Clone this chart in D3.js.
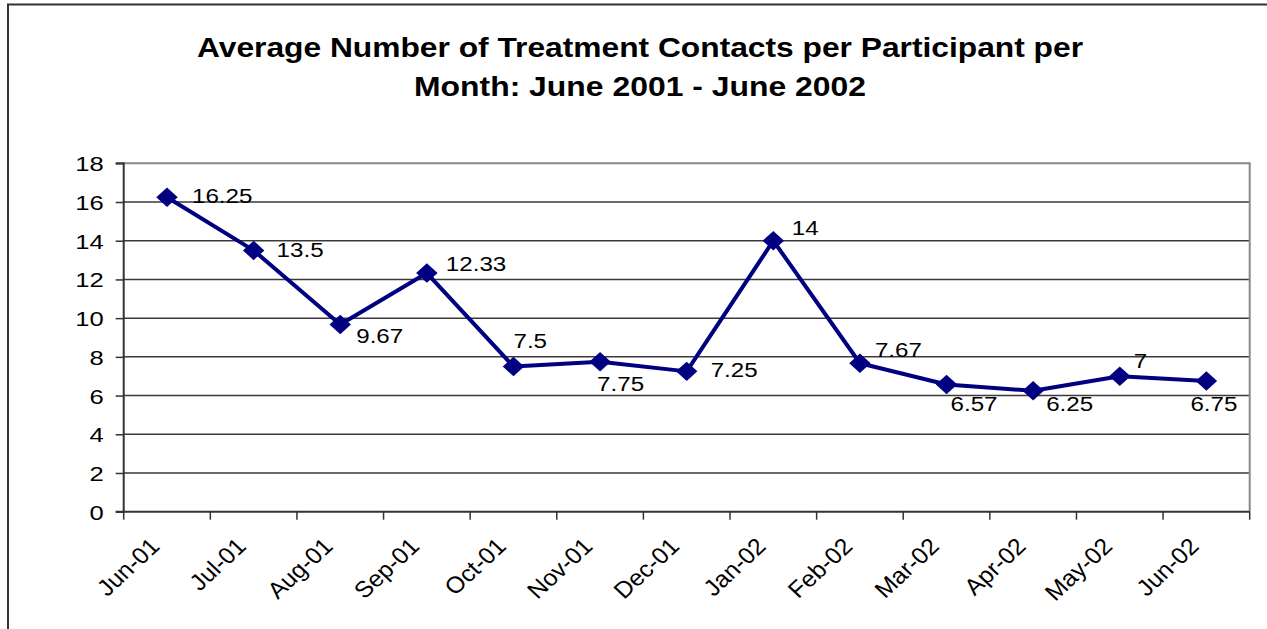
<!DOCTYPE html>
<html>
<head>
<meta charset="utf-8">
<script src="https://cdn.jsdelivr.net/npm/d3@7"></script>
<style>
  html, body { margin: 0; padding: 0; background: #fff; }
  svg { display: block; font-family: "Liberation Sans", Arial, sans-serif; }
</style>
</head>
<body>
<svg id="chart" width="1267" height="629"></svg>
<script>
// Monthly averages of treatment contacts per participant
const months = ["Jun-01", "Jul-01", "Aug-01", "Sep-01", "Oct-01", "Nov-01", "Dec-01",
                "Jan-02", "Feb-02", "Mar-02", "Apr-02", "May-02", "Jun-02"];
const contacts = [16.25, 13.5, 9.67, 12.33, 7.5, 7.75, 7.25, 14, 7.67, 6.57, 6.25, 7, 6.75];
const yTicks = [0, 2, 4, 6, 8, 10, 12, 14, 16, 18];
const titleLines = ["Average Number of Treatment Contacts per Participant per",
                    "Month: June 2001 - June 2002"];
// Hand-placed value label offsets (dx, dy) from each marker
const labelOffsets = [[25, -2], [23, -1], [16, 10.5], [19, -10], [0, -26], [-3, 22], [24, -2],
                      [18.5, -13], [15, -14], [4, 19], [13, 12.6], [14, -16], [-16, 22]];

const svg = d3.select("#chart");
const plot = { left: 123.7, right: 1249.7, top: 163.3, bottom: 511.7 };
const FONT = "Liberation Sans, Arial, sans-serif";

// outer chart frame (runs off the right and bottom edges)
svg.append("path")
  .attr("d", `M8,640 L8,4.5 L1280,4.5`)
  .attr("fill", "none").attr("stroke", "#333").attr("stroke-width", 2);

// title
svg.append("g").selectAll("text").data(titleLines).join("text")
  .attr("x", 640).attr("y", (d, i) => 57 + i * 39)
  .attr("text-anchor", "middle")
  .attr("font-weight", "bold").attr("font-size", 28)
  .attr("textLength", (d, i) => i === 0 ? 886 : 452)
  .attr("lengthAdjust", "spacingAndGlyphs")
  .attr("fill", "#000")
  .text(d => d);

const x = d3.scaleBand().domain(months).range([plot.left, plot.right]).padding(0);
const y = d3.scaleLinear().domain([0, 18]).range([plot.bottom, plot.top]);

// horizontal gridlines
svg.append("g").selectAll("line").data(yTicks.filter(t => t > 0 && t < 18)).join("line")
  .attr("x1", plot.left).attr("x2", plot.right)
  .attr("y1", d => y(d)).attr("y2", d => y(d))
  .attr("stroke", "#3a3a3a").attr("stroke-width", 1.5);

// plot area border, top and right
svg.append("path")
  .attr("d", `M${plot.left},${y(18)} L${plot.right},${y(18)} L${plot.right},${plot.bottom}`)
  .attr("fill", "none").attr("stroke", "#888").attr("stroke-width", 2);

// y axis
const yAxis = d3.axisLeft(y).tickValues(yTicks).tickSize(8).tickPadding(12).tickFormat(d3.format("d"));
const gy = svg.append("g").attr("transform", `translate(${plot.left},0)`).call(yAxis);
gy.select(".domain").attr("stroke", "#333").attr("stroke-width", 2).attr("d", `M-8,${plot.top}H0V${plot.bottom}H-8`);
gy.selectAll(".tick line").attr("stroke", "#333").attr("stroke-width", 1.5);
gy.selectAll(".tick text")
  .attr("x", 0).attr("dy", "0.36em")
  .attr("transform", "translate(-20,0) scale(1.22,1)")
  .attr("font-size", 21).attr("fill", "#000").attr("font-family", FONT);

// x axis: baseline, ticks at category boundaries, rotated labels at category centers
const gx = svg.append("g");
gx.append("line")
  .attr("x1", plot.left).attr("x2", plot.right)
  .attr("y1", plot.bottom).attr("y2", plot.bottom)
  .attr("stroke", "#333").attr("stroke-width", 2);
const boundaries = months.map(m => x(m)).concat([x.range()[1]]);
gx.selectAll("line.tick").data(boundaries).join("line")
  .attr("class", "tick")
  .attr("x1", d => d).attr("x2", d => d)
  .attr("y1", plot.bottom).attr("y2", plot.bottom + 8)
  .attr("stroke", "#333").attr("stroke-width", 1.5);
gx.selectAll("text").data(months).join("text")
  .attr("transform", d => `translate(${x(d) + x.bandwidth() / 2 - 6},${plot.bottom + 36}) scale(1.08,1) rotate(-45)`)
  .attr("text-anchor", "end")
  .attr("font-size", 23).attr("fill", "#000")
  .text(d => d);

// series line
const cx = (d, i) => x(months[i]) + x.bandwidth() / 2;
const line = d3.line().x(cx).y(d => y(d));
svg.append("path").datum(contacts)
  .attr("d", line)
  .attr("fill", "none").attr("stroke", "#000080").attr("stroke-width", 4)
  .attr("stroke-linejoin", "round");

// diamond markers
svg.append("g").selectAll("path").data(contacts).join("path")
  .attr("d", d3.symbol().type(d3.symbolSquare).size(190))
  .attr("transform", (d, i) => `translate(${cx(d, i)},${y(d)}) scale(1.1,1) rotate(45)`)
  .attr("fill", "#000080");

// value labels
svg.append("g").selectAll("text").data(contacts).join("text")
  .attr("transform", (d, i) => `translate(${cx(d, i) + labelOffsets[i][0]},${y(d) + labelOffsets[i][1]}) scale(1.15,1)`)
  .attr("dy", "0.36em")
  .attr("font-size", 21).attr("fill", "#000")
  .text(d => d);
</script>
</body>
</html>
